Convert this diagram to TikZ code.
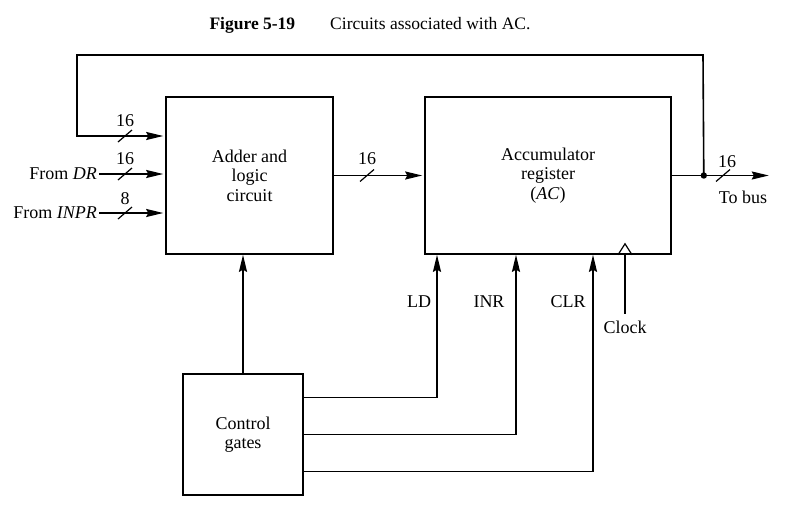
\documentclass[tikz,border=0pt]{standalone}
\usepackage{fontspec}
\setmainfont{Liberation Serif}
\usetikzlibrary{
    arrows.meta,
    calc,
    positioning
}
\tikzset{
    block/.style={draw, line width=1.6pt, align=center, font=\fontsize{18}{19.5}\selectfont},
    wire/.style={line width=1.6pt},
    sig/.style={font=\fontsize{18}{19.5}\selectfont, inner sep=2pt},
    busmark/.style={line width=1.2pt}
}

\begin{document}
\begin{tikzpicture}[x=1pt, y=-1pt, >={Stealth[length=17pt,width=8pt,inset=2pt]}]
                        \useasboundingbox (0,0) rectangle (790,525);
                        \node (title) at (370,25) {\fontsize{17.5}{19}\selectfont\textbf{Figure 5-19}\qquad Circuits associated with AC.};

                        \node[block, minimum width=167pt, minimum height=157pt] (adder) at (249.5,175.5) {Adder and\\logic\\circuit};
                        \node[block, minimum width=246pt, minimum height=157pt] (ac) at (548,175.5) {Accumulator\\register\\(\textit{AC})};
                        \node[block, minimum width=120pt, minimum height=121pt] (ctrl) at (243,434.5) {Control\\gates};

                        \node[sig, anchor=east] (dr) at (99,174) {From \textit{DR}};
                        \node[sig, anchor=east] (inpr) at (99,213) {From \textit{INPR}};

                        \coordinate (jn) at ([xshift=32pt]ac.east);
                        \coordinate (bus) at ([xshift=97pt]ac.east);
                        \coordinate (fbR) at (703,55);
                        \coordinate (fbL) at (77,55);
                        \coordinate (fbD) at (77,136);
                        \coordinate (clk) at ([xshift=77pt]ac.south);
                        \coordinate (clkin) at ([xshift=77pt,yshift=-59pt]ac.south);

                        \draw[wire, ->, shorten >=2pt] (jn) -- (fbR) -- (fbL) -- (fbD) -- (fbD -| adder.west);
                        \draw[wire, ->, shorten >=2pt] (dr) -- (dr -| adder.west);
                        \draw[wire, ->, shorten >=2pt] (inpr) -- (inpr -| adder.west);
                        \draw[wire, ->, shorten >=2pt] (adder) -- (ac);
                        \draw[wire, ->] (ac) -- (bus);
                        \fill (jn) circle (3.2pt);

                        \draw[wire, ->] (ctrl.north) -- (ctrl.north |- adder.south);
                        \draw[wire, ->] ([yshift=37pt]ctrl.east) -| ([xshift=-111pt]ac.south);
                        \draw[wire, ->] (ctrl.east) -| ([xshift=-32pt]ac.south);
                        \draw[wire, ->] ([yshift=-37pt]ctrl.east) -| ([xshift=45pt]ac.south);
                        \draw[wire] (clkin) -- (clk);
                        \draw[busmark] ([xshift=-7pt]clk) -- ([yshift=11pt]clk) -- ([xshift=7pt]clk);

                        % bus widths
                        \foreach \x/\y in {125/136, 125/174, 125/213, 367/175.5, 723/175.5}
                            \draw[busmark] (\x-7,\y+6) -- (\x+7,\y-6);
                        \node[sig] (wfb) at (125,121) {16};
                        \node[sig] (wdr) at (125,159) {16};
                        \node[sig] (winpr) at (125,199) {8};
                        \node[sig] (wsum) at (367,159) {16};
                        \node[sig] (wbus) at (727,162) {16};
                        \node[sig] (tobus) at (743,197) {To bus};

                        \node[sig] (ld) at (419,302) {LD};
                        \node[sig] (inr) at (489,302) {INR};
                        \node[sig] (clr) at (568,302) {CLR};
                        \node[sig, below=5pt of clkin] (clock) {Clock};
                    \end{tikzpicture}
\end{document}
